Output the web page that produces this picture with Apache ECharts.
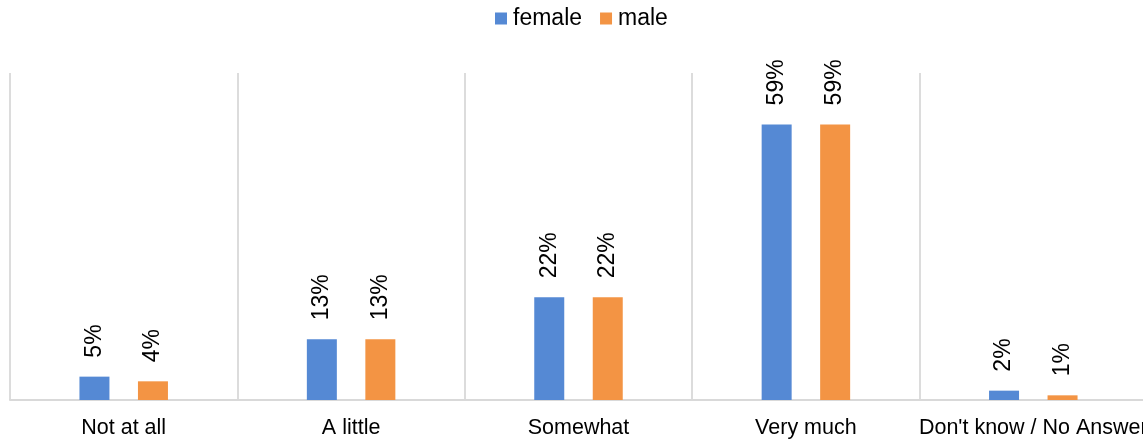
<!DOCTYPE html>
<html>
<head>
<meta charset="utf-8">
<style>
  html, body { margin: 0; padding: 0; background: #ffffff; }
  #chart { width: 1143px; height: 439px; }
</style>
<script src="https://cdn.jsdelivr.net/npm/echarts@6/dist/echarts.min.js"></script>
</head>
<body>
<div id="chart"></div>
<script>
// Response categories along the x axis
var categories = ['Not at all', 'A little', 'Somewhat', 'Very much', "Don't know / No Answer"];

// Share of respondents (%) per gender
var femaleValues = [5, 13, 22, 59, 2];
var maleValues = [4, 13, 22, 59, 1];

var seriesNames = ['female', 'male'];
var seriesColors = ['#5589d4', '#f39444'];

var FONT = '"Liberation Sans", Arial, sans-serif';

function barLabel() {
  return {
    show: true,
    position: 'top',
    rotate: 90,
    align: 'left',
    verticalAlign: 'middle',
    distance: 19,
    color: '#000000',
    fontFamily: FONT,
    fontSize: 23,
    formatter: function (p) { return p.value + '%'; }
  };
}

var chart = echarts.init(document.getElementById('chart'), null, { renderer: 'canvas' });

chart.setOption({
  animation: false,
  backgroundColor: '#ffffff',
  legend: {
    data: seriesNames,
    left: 495,
    top: 7,
    padding: 0,
    icon: 'rect',
    itemWidth: 12,
    itemHeight: 12,
    itemGap: 18,
    textStyle: { color: '#000000', fontFamily: FONT, fontSize: 23, padding: [0, 0, 0, 1] }
  },
  grid: {
    left: 10,
    top: 73,
    width: 1137,
    height: 327,
    containLabel: false,
    outerBoundsMode: 'none'
  },
  xAxis: {
    type: 'category',
    data: categories,
    boundaryGap: true,
    axisTick: { show: false },
    axisLine: { show: true, lineStyle: { color: '#d9d9d9', width: 2 } },
    splitLine: { show: true, lineStyle: { color: '#dcdcdc', width: 2 } },
    axisLabel: {
      color: '#000000',
      fontFamily: FONT,
      fontSize: 21.5,
      margin: 17,
      interval: 0,
      hideOverlap: false
    }
  },
  yAxis: {
    type: 'value',
    min: 0,
    max: 70,
    show: false,
    splitLine: { show: false }
  },
  series: [
    {
      name: seriesNames[0],
      type: 'bar',
      data: femaleValues,
      barWidth: 30,
      barGap: '95%',
      itemStyle: { color: seriesColors[0] },
      label: barLabel()
    },
    {
      name: seriesNames[1],
      type: 'bar',
      data: maleValues,
      barWidth: 30,
      barGap: '95%',
      itemStyle: { color: seriesColors[1] },
      label: barLabel()
    }
  ]
});
</script>
</body>
</html>
